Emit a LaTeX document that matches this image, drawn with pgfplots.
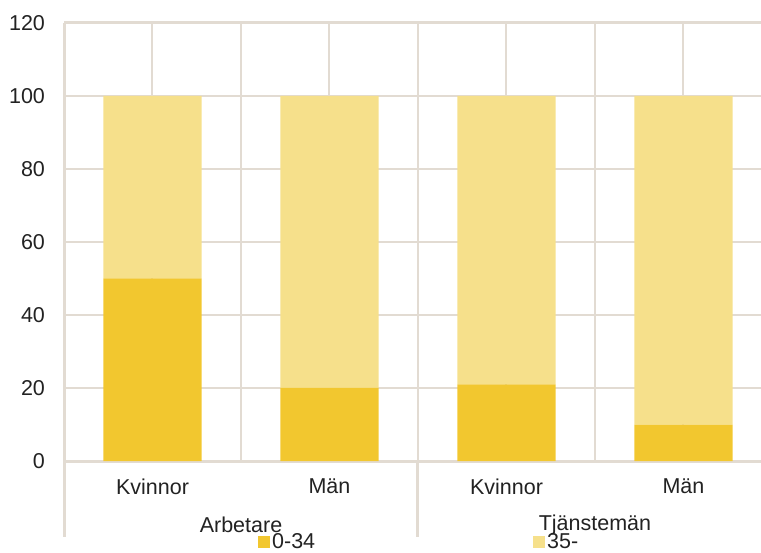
\documentclass[border=0pt]{standalone}
\usepackage{fontspec}
\setmainfont{Liberation Sans}
\usepackage{pgfplots}
\pgfplotsset{compat=1.18}
\definecolor{darkyel}{HTML}{F2C72F}
\definecolor{lightyel}{HTML}{F6E08B}
\definecolor{gridc}{HTML}{E2DBD2}
\definecolor{txt}{HTML}{222222}
\begin{document}
\begin{tikzpicture}
\useasboundingbox (0,0) rectangle (380.5pt,276pt);
\begin{axis}[
  at={(32pt,45.5pt)}, anchor=south west,
  scale only axis, width=348.5pt, height=219pt,
  ybar stacked, bar width=0.554,
  xmin=-0.5, xmax=3.438, ymin=0, ymax=120,
  ytick={0,20,...,120},
  xtick={0,1,2,3},
  xticklabels={Kvinnor,Män,Kvinnor,Män},
  minor xtick={0.5,1.5,2.5},
  grid=both,
  grid style={gridc, line width=1pt},
  minor grid style={gridc, line width=1pt},
  axis x line*=bottom, axis y line*=left,
  axis line style={gridc, line width=1.5pt, -},
  major tick length=0pt, minor tick length=0pt,
  tick style={draw=none},
  /pgf/number format/assume math mode=true,
  ticklabel style={font=\fontsize{10.75pt}{12pt}\selectfont, text=txt},
  yticklabel style={xshift=-6pt},
  xticklabel style={yshift=-5.5pt},
  legend style={draw=none, fill=none, inner sep=0pt, anchor=west, at={(0.278,-0.1855)},
    font=\fontsize{10.75pt}{12pt}\selectfont, text=txt,
    legend columns=2, /tikz/every even column/.append style={column sep=108pt},
    nodes={inner sep=1pt}},
  legend image code/.code={\fill[#1,draw=none] (0pt,-3pt) rectangle (6pt,3pt);},
  clip=false,
]
\addplot[fill=darkyel, draw=none] coordinates {(0,50) (1,20) (2,21) (3,10)};
\addplot[fill=lightyel, draw=none] coordinates {(0,50) (1,80) (2,79) (3,90)};
\legend{0-34,35-}
\draw[gridc, line width=1.5pt] (axis cs:-0.5,120) -- (axis cs:3.438,120);
\draw[gridc, line width=1.5pt] (axis cs:-0.5,0) -- ++(0pt,-38pt);
\draw[gridc, line width=1.5pt] (axis cs:1.5,0) -- ++(0pt,-38pt);
\node[font=\fontsize{10.75pt}{12pt}\selectfont, text=txt] at ([yshift=-32pt]axis cs:0.5,0) {Arbetare};
\node[font=\fontsize{10.75pt}{12pt}\selectfont, text=txt] at ([yshift=-32pt]axis cs:2.5,0) {Tjänstemän};
\end{axis}
\end{tikzpicture}
\end{document}
